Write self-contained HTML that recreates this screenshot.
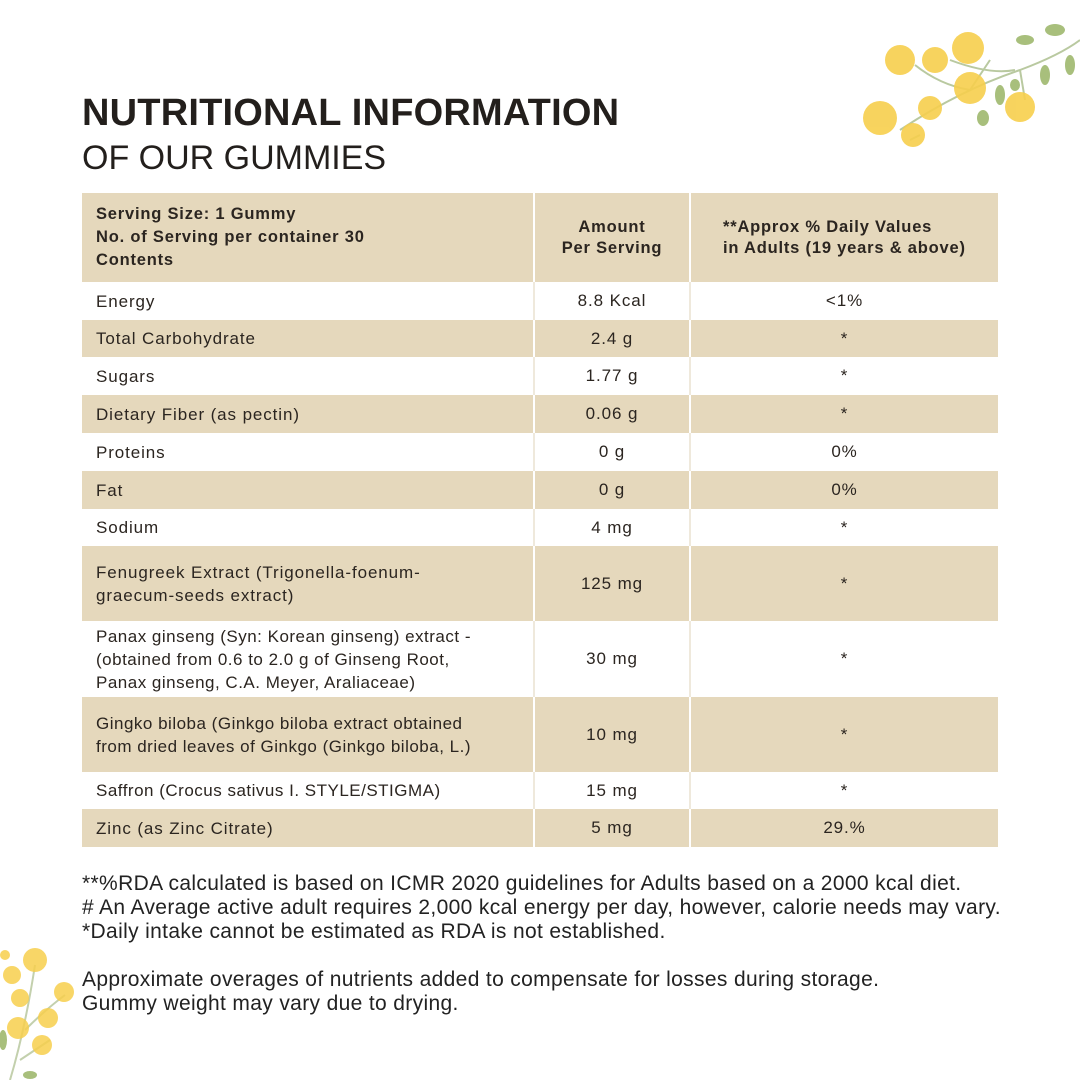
<!DOCTYPE html>
<html><head><meta charset="utf-8"><style>
body{margin:0;width:1080px;height:1080px;background:#fff;position:relative;overflow:hidden;font-family:"Liberation Sans",sans-serif;color:#231f1c}
.t{position:absolute;left:82px;line-height:1;white-space:nowrap}
.r{position:absolute;left:82px;width:916px;display:flex;font-size:17px;color:#2b2520;letter-spacing:0.9px}
.r.b{background:#e5d8bc}
.c{display:flex;align-items:center;box-sizing:border-box}
.c1{width:451px;padding-left:14px;line-height:23px}
.c2{width:158px;justify-content:center;border-left:2px solid #efe9dc;border-right:2px solid #efe9dc}
.c3{flex:1;justify-content:center}
.b .c2{border-color:#fff}
.h{font-weight:bold;font-size:16.5px;line-height:21px;letter-spacing:0.8px}
.f{position:absolute;left:82px;font-size:21px;letter-spacing:0.35px;color:#222;white-space:nowrap}
</style></head><body>
<div class="t" style="top:94px;font-size:38px;font-weight:bold;letter-spacing:0.2px">NUTRITIONAL INFORMATION</div>
<div class="t" style="top:141px;font-size:34px">OF OUR GUMMIES</div>

<div class="r b h" style="top:193px;height:89px"><div class="c c1">Serving Size: 1 Gummy<br>No. of Serving per container 30<br>Contents</div><div class="c c2" style="text-align:center">Amount<br>Per Serving</div><div class="c c3" style="justify-content:flex-start;padding-left:32px">**Approx % Daily Values<br>in Adults (19 years &amp; above)</div></div>
<div class="r" style="top:282px;height:38px"><div class="c c1">Energy</div><div class="c c2">8.8 Kcal</div><div class="c c3">&lt;1%</div></div>
<div class="r b" style="top:320px;height:37px"><div class="c c1">Total Carbohydrate</div><div class="c c2">2.4 g</div><div class="c c3">*</div></div>
<div class="r" style="top:357px;height:38px"><div class="c c1">Sugars</div><div class="c c2">1.77 g</div><div class="c c3">*</div></div>
<div class="r b" style="top:395px;height:38px"><div class="c c1">Dietary Fiber (as pectin)</div><div class="c c2">0.06 g</div><div class="c c3">*</div></div>
<div class="r" style="top:433px;height:38px"><div class="c c1">Proteins</div><div class="c c2">0 g</div><div class="c c3">0%</div></div>
<div class="r b" style="top:471px;height:38px"><div class="c c1">Fat</div><div class="c c2">0 g</div><div class="c c3">0%</div></div>
<div class="r" style="top:509px;height:37px"><div class="c c1">Sodium</div><div class="c c2">4 mg</div><div class="c c3">*</div></div>
<div class="r b" style="top:546px;height:75px"><div class="c c1">Fenugreek Extract (Trigonella-foenum-<br>graecum-seeds extract)</div><div class="c c2">125 mg</div><div class="c c3">*</div></div>
<div class="r" style="top:621px;height:76px"><div class="c c1" style="letter-spacing:0.5px">Panax ginseng (Syn: Korean ginseng) extract -<br>(obtained from 0.6 to 2.0 g of Ginseng Root,<br>Panax ginseng, C.A. Meyer, Araliaceae)</div><div class="c c2">30 mg</div><div class="c c3">*</div></div>
<div class="r b" style="top:697px;height:75px"><div class="c c1" style="letter-spacing:0.5px">Gingko biloba (Ginkgo biloba extract obtained<br>from dried leaves of Ginkgo (Ginkgo biloba, L.)</div><div class="c c2">10 mg</div><div class="c c3">*</div></div>
<div class="r" style="top:772px;height:37px"><div class="c c1" style="letter-spacing:0.5px">Saffron (Crocus sativus I. STYLE/STIGMA)</div><div class="c c2">15 mg</div><div class="c c3">*</div></div>
<div class="r b" style="top:809px;height:38px"><div class="c c1">Zinc (as Zinc Citrate)</div><div class="c c2">5 mg</div><div class="c c3">29.%</div></div>

<div class="f" style="top:872px">**%RDA calculated is based on ICMR 2020 guidelines for Adults based on a 2000 kcal diet.</div>
<div class="f" style="top:896px"># An Average active adult requires 2,000 kcal energy per day, however, calorie needs may vary.</div>
<div class="f" style="top:920px">*Daily intake cannot be estimated as RDA is not established.</div>
<div class="f" style="top:968px">Approximate overages of nutrients added to compensate for losses during storage.</div>
<div class="f" style="top:992px">Gummy weight may vary due to drying.</div>

<svg style="position:absolute;left:840px;top:0" width="240" height="170">
<g stroke="#b9c9a0" stroke-width="2" fill="none">
<path d="M60 130 Q120 90 180 70 Q220 55 240 40"/><path d="M75 65 Q100 85 130 90"/><path d="M110 60 Q150 75 175 70"/><path d="M130 90 L150 60"/><path d="M180 70 L185 100"/><path d="M80 135 L70 140"/>
</g>
<g fill="#a8bf7c">
<ellipse cx="185" cy="40" rx="9" ry="5"/><ellipse cx="215" cy="30" rx="10" ry="6"/><ellipse cx="230" cy="65" rx="5" ry="10"/><ellipse cx="205" cy="75" rx="5" ry="10"/><ellipse cx="160" cy="95" rx="5" ry="10"/><ellipse cx="143" cy="118" rx="6" ry="8"/><ellipse cx="175" cy="85" rx="5" ry="6"/>
</g>
<g fill="#f7cf4d" opacity="0.9">
<circle cx="60" cy="60" r="15"/><circle cx="95" cy="60" r="13"/><circle cx="128" cy="48" r="16"/><circle cx="130" cy="88" r="16"/><circle cx="40" cy="118" r="17"/><circle cx="90" cy="108" r="12"/><circle cx="73" cy="135" r="12"/><circle cx="180" cy="107" r="15"/>
</g>
</svg>
<svg style="position:absolute;left:0;top:940px" width="80" height="140">
<g stroke="#c3d0ad" stroke-width="2" fill="none"><path d="M10 140 Q25 90 35 25"/><path d="M25 90 Q45 70 65 55"/><path d="M20 120 Q35 110 50 100"/></g>
<g fill="#a8bf7c"><ellipse cx="3" cy="100" rx="4" ry="10"/><ellipse cx="30" cy="135" rx="7" ry="4"/></g>
<g fill="#f7cf4d" opacity="0.85"><circle cx="35" cy="20" r="12"/><circle cx="12" cy="35" r="9"/><circle cx="20" cy="58" r="9"/><circle cx="64" cy="52" r="10"/><circle cx="48" cy="78" r="10"/><circle cx="18" cy="88" r="11"/><circle cx="42" cy="105" r="10"/><circle cx="5" cy="15" r="5"/></g>
</svg>
</body></html>
